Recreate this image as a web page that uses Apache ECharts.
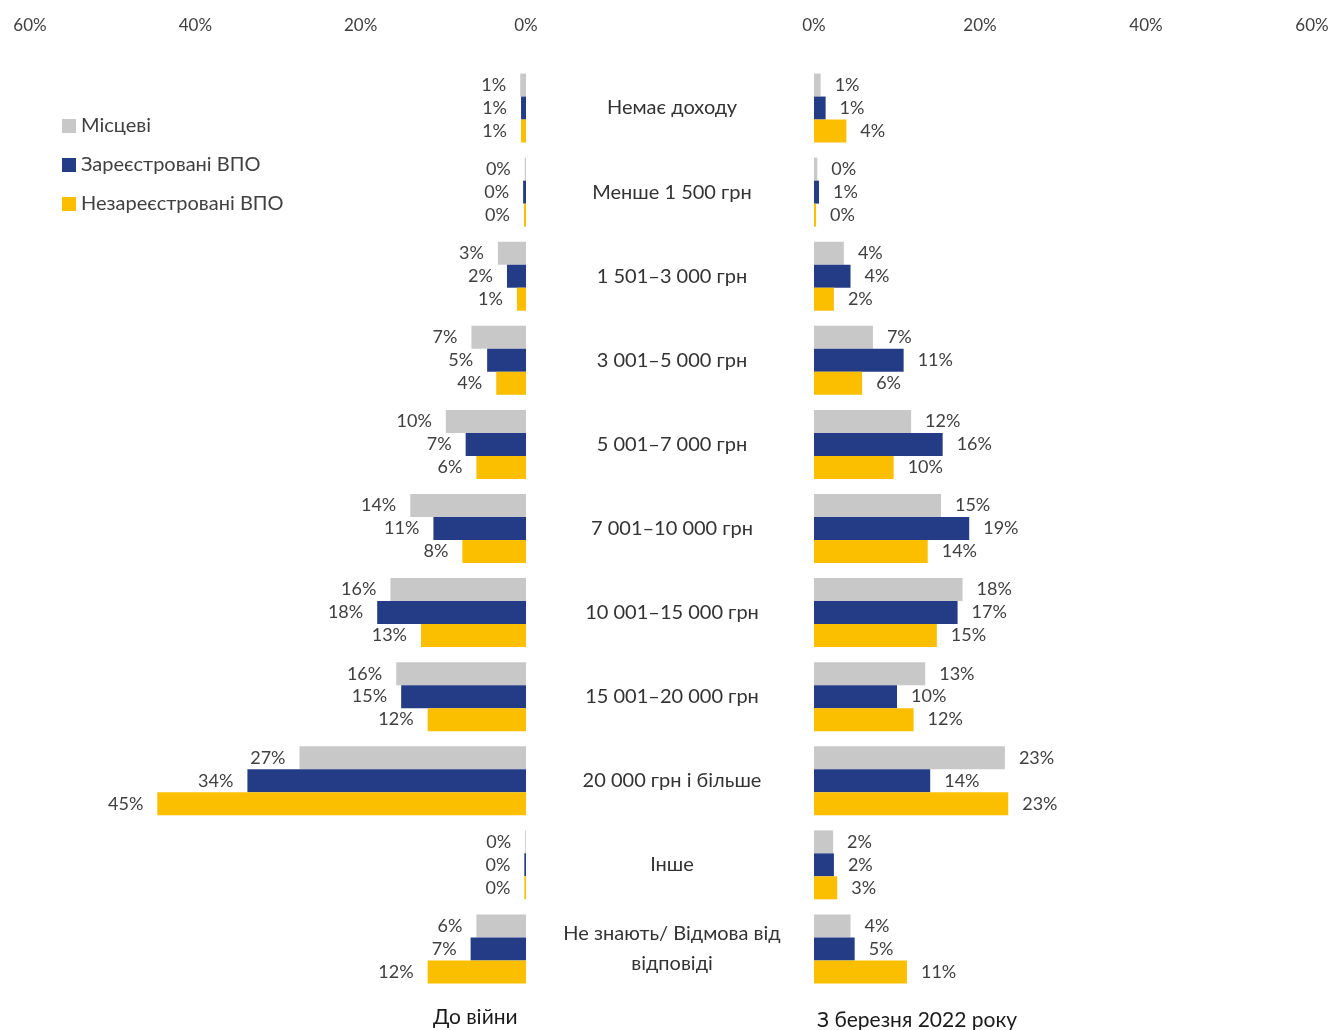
<!DOCTYPE html>
<html>
<head>
<meta charset="utf-8">
<script src="https://cdn.jsdelivr.net/npm/echarts@6/dist/echarts.min.js"></script>
<style>
  html, body { margin: 0; padding: 0; background: #fff; }
  #chart { width: 1333px; height: 1030px; }
</style>
</head>
<body>
<div id="chart"></div>
<script>
// категорії доходу
var categories = ['Немає доходу', 'Менше 1 500 грн', '1 501–3 000 грн', '3 001–5 000 грн',
  '5 001–7 000 грн', '7 001–10 000 грн', '10 001–15 000 грн', '15 001–20 000 грн',
  '20 000 грн і більше', 'Інше', 'Не знають/ Відмова від\nвідповіді'];
var groups = ['Місцеві', 'Зареєстровані ВПО', 'Незареєстровані ВПО'];
var colors = ['#c8c8c8', '#243c86', '#fbbf00'];
var ticks = [0, 20, 40, 60];

// До війни
var beforeLocal = [0.7, 0.15, 3.4, 6.6, 9.7, 14.0, 16.4, 15.7, 27.4, 0.1, 6.0];
var beforeReg   = [0.6, 0.35, 2.3, 4.7, 7.3, 11.2, 18.0, 15.1, 33.7, 0.2, 6.7];
var beforeUnreg = [0.6, 0.25, 1.1, 3.6, 6.0, 7.7, 12.7, 11.9, 44.6, 0.2, 11.9];
// З березня 2022 року
var afterLocal = [0.8, 0.4, 3.6, 7.1, 11.7, 15.3, 17.9, 13.4, 23.0, 2.3, 4.4];
var afterReg   = [1.4, 0.6, 4.4, 10.8, 15.5, 18.7, 17.3, 10.0, 14.0, 2.4, 4.9];
var afterUnreg = [3.9, 0.25, 2.4, 5.8, 9.6, 13.7, 14.8, 12.0, 23.4, 2.8, 11.2];

var myChart = echarts.init(document.getElementById('chart'));
var font = 'Lato';
var textColor = '#404040';

function xAxisOf(idx, inverse) {
  return {
    type: 'value', gridIndex: idx, position: 'top', inverse: inverse,
    min: ticks[0], max: ticks[ticks.length - 1], interval: 20,
    axisLine: { show: false }, axisTick: { show: false }, splitLine: { show: false },
    axisLabel: { formatter: '{value}%', margin: 32, fontFamily: font, fontSize: 17, color: textColor }
  };
}

function barSeries(name, data, gi, pos, color) {
  return {
    name: name, type: 'bar', xAxisIndex: gi, yAxisIndex: gi, data: data,
    barGap: 0, barCategoryGap: '18%',
    itemStyle: { color: color },
    label: {
      show: true, position: pos, distance: 14,
      formatter: function (p) { return Math.round(p.value) + '%'; },
      fontFamily: font, fontSize: 18, color: textColor
    }
  };
}

option = {
  backgroundColor: '#fff',
  color: colors,
  animation: false,
  legend: {
    data: groups, orient: 'vertical', left: 57, top: 111, itemGap: 19,
    itemWidth: 14, itemHeight: 14, icon: 'rect',
    textStyle: { fontFamily: font, fontSize: 20, color: textColor }
  },
  title: [
    { text: 'До війни', left: 428, top: 1002, textStyle: { fontFamily: font, fontSize: 21, fontWeight: 'normal', color: '#1a1a1a' } },
    { text: 'З березня 2022 року', left: 812, top: 1005, textStyle: { fontFamily: font, fontSize: 21, fontWeight: 'normal', color: '#1a1a1a' } }
  ],
  grid: [
    { left: 30, right: 807, top: 66, height: 925 },
    { left: 814, right: 21, top: 66, height: 925 }
  ],
  xAxis: [xAxisOf(0, true), xAxisOf(1, false)],
  yAxis: [
    { type: 'category', gridIndex: 0, data: categories, inverse: true, position: 'right',
      axisLine: { show: false }, axisTick: { show: false }, axisLabel: { show: false } },
    { type: 'category', gridIndex: 1, data: categories, inverse: true,
      axisLine: { show: false }, axisTick: { show: false },
      axisLabel: { align: 'center', margin: 142, fontFamily: font, fontSize: 20, color: '#333', lineHeight: 30 } }
  ],
  series: [
    barSeries(groups[0], beforeLocal, 0, 'left', colors[0]),
    barSeries(groups[1], beforeReg, 0, 'left', colors[1]),
    barSeries(groups[2], beforeUnreg, 0, 'left', colors[2]),
    barSeries(groups[0], afterLocal, 1, 'right', colors[0]),
    barSeries(groups[1], afterReg, 1, 'right', colors[1]),
    barSeries(groups[2], afterUnreg, 1, 'right', colors[2])
  ]
};
myChart.setOption(option, true);
</script>
</body>
</html>
